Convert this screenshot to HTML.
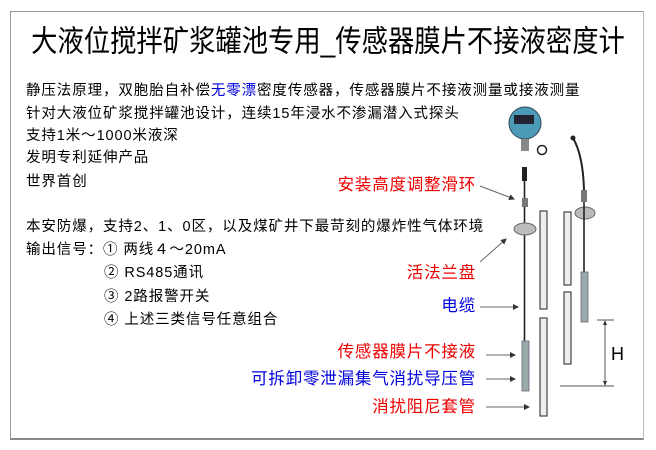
<!DOCTYPE html>
<html><head><meta charset="utf-8"><style>
body{margin:0;width:656px;height:450px;background:#fff;position:relative;overflow:hidden;font-family:"Liberation Sans","Noto Sans CJK SC",sans-serif}
.frame{position:absolute;left:10px;top:11px;width:632px;height:426px;border-left:1px solid #999;border-top:1px solid #999;border-right:1px solid #bbb;border-bottom:2px solid #888}
.t{position:absolute;white-space:nowrap;line-height:1}
.title{left:0;width:656px;text-align:center;top:28px;font-size:28px;color:#000;transform:scaleX(0.94) scaleY(1.08)}
.l{left:26px;font-size:14.5px;color:#000;letter-spacing:0.9px}
.r{font-size:16.5px;text-align:right;right:180px;letter-spacing:0.8px}
.red{color:#e00}.blue{color:#00d}
</style></head><body>
<div class="frame"></div>
<div class="t title">大液位搅拌矿浆罐池专用_传感器膜片不接液密度计</div>
<div class="t l" style="top:84px">静压法原理，双胞胎自补偿<span class="blue">无零漂</span>密度传感器，传感器膜片不接液测量或接液测量</div>
<div class="t l" style="top:107px">针对大液位矿浆搅拌罐池设计，连续15年浸水不渗漏潜入式探头</div>
<div class="t l" style="top:129px">支持1米～1000米液深</div>
<div class="t l" style="top:151px">发明专利延伸产品</div>
<div class="t l" style="top:175px">世界首创</div>
<div class="t l" style="top:220px">本安防爆，支持2、1、0区，以及煤矿井下最苛刻的爆炸性气体环境</div>
<div class="t l" style="top:243px">输出信号：① 两线４～20mA</div>
<div class="t l" style="top:266px;left:104px">② RS485通讯</div>
<div class="t l" style="top:290px;left:104px">③ 2路报警开关</div>
<div class="t l" style="top:313px;left:104px">④ 上述三类信号任意组合</div>
<div class="t r red" style="top:177px">安装高度调整滑环</div>
<div class="t r red" style="top:265px">活法兰盘</div>
<div class="t r blue" style="top:298px">电缆</div>
<div class="t r red" style="top:344px">传感器膜片不接液</div>
<div class="t r blue" style="top:371px">可拆卸零泄漏集气消扰导压管</div>
<div class="t r red" style="top:399px">消扰阻尼套管</div>
<svg width="656" height="450" style="position:absolute;left:0;top:0">
<defs><marker id="a" markerWidth="6" markerHeight="6" refX="5" refY="3" orient="auto"><path d="M0,0L6,3L0,6z" fill="#333"/></marker></defs>
<g stroke="#666" stroke-width="1" marker-end="url(#a)">
<line x1="480" y1="186" x2="514" y2="199"/>
<line x1="480" y1="262" x2="506" y2="239"/>
<line x1="480" y1="307" x2="518" y2="307"/>
<line x1="486" y1="355" x2="515" y2="355"/>
<line x1="486" y1="379" x2="515" y2="379"/>
<line x1="486" y1="407" x2="529" y2="407"/>
</g>
<circle cx="525" cy="123" r="16" fill="#4a9ab8" stroke="#345" stroke-width="1"/>
<rect x="514" y="115" width="20" height="9" fill="#223"/>
<rect x="521" y="139" width="8" height="12" fill="#888"/>
<circle cx="542" cy="150" r="4.5" fill="none" stroke="#222" stroke-width="1.5"/>
<rect x="522" y="167" width="5" height="14" fill="#222"/>
<line x1="524.5" y1="180" x2="524.5" y2="342" stroke="#222" stroke-width="1.6"/>
<rect x="522" y="198" width="6" height="9" fill="#777"/>
<ellipse cx="525" cy="229" rx="11" ry="6" fill="#bbb" stroke="#666"/>
<rect x="522" y="341" width="7" height="50" fill="#9aa" stroke="#667" stroke-width="0.8"/>
<g fill="#eee" stroke="#444" stroke-width="1.2">
<rect x="540" y="211" width="7" height="98"/>
<rect x="540" y="318" width="7" height="98"/>
<rect x="564" y="212" width="7" height="73"/>
<rect x="564" y="292" width="7" height="72"/>
</g>
<path d="M573,138 Q583,155 584,190" fill="none" stroke="#222" stroke-width="2"/>
<circle cx="573" cy="138" r="2.5" fill="#222"/>
<rect x="581" y="190" width="6" height="12" fill="#777"/>
<ellipse cx="585" cy="213" rx="10" ry="6" fill="#bbb" stroke="#666"/>
<line x1="584" y1="202" x2="584" y2="273" stroke="#222" stroke-width="1.6"/>
<rect x="581" y="272" width="7" height="50" fill="#9aa" stroke="#667" stroke-width="0.8"/>
<g stroke="#555" stroke-width="1">
<line x1="597" y1="320" x2="614" y2="320"/>
<line x1="560" y1="386" x2="614" y2="386"/>
<line x1="605" y1="321" x2="605" y2="385"/>
</g>
<path d="M605,320l-2,5h4z M605,386l-2,-5h4z" fill="#333"/>
<text x="611" y="360" font-family="Liberation Sans" font-size="18" fill="#000">H</text>
</svg>
</body></html>
